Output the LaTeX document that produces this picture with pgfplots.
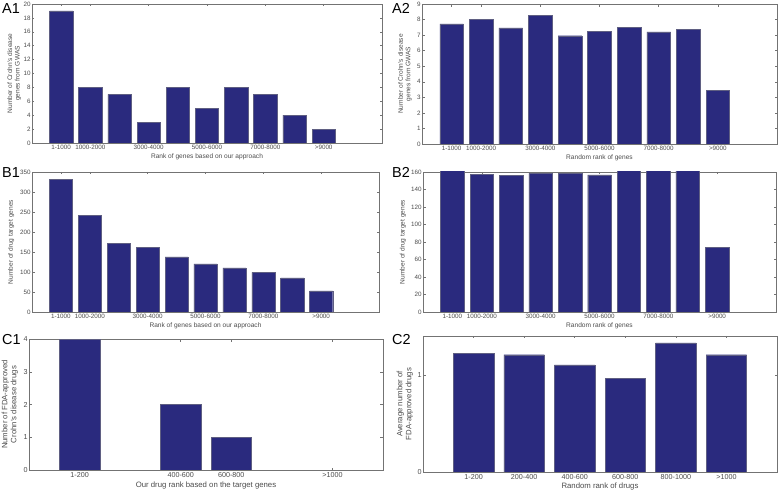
\documentclass[border=0pt]{standalone}
\usepackage{pgfplots}
\pgfplotsset{compat=1.18}
\usepackage{fontspec}
\setmainfont{Liberation Sans}
\definecolor{barblue}{RGB}{42,42,126}
\definecolor{baredge}{RGB}{95,95,130}
\definecolor{axgray}{RGB}{115,115,115}
\definecolor{txtgray}{RGB}{75,75,75}
\pgfplotsset{
  mat/.style={
    scale only axis,
    anchor=south west,
    axis line style={axgray, line width=0.6pt},
    tick style={axgray, line width=0.5pt},
    major tick length=2.5bp,
    tick align=inside,
    /pgf/number format/assume math mode=true,
    ticklabel style={text=txtgray, font=\fontsize{6.3}{6.3}\selectfont},
    yticklabel style={inner sep=1.2bp},
    xticklabel style={inner sep=1.5bp},
    label style={text=txtgray, font=\fontsize{6.6}{7.6}\selectfont, align=center},
    scaled y ticks=false,
    ymin=0,
  },
  bars/.style={ybar, bar width=0.8, fill=barblue, draw=baredge, line width=0.4pt},
}
\begin{document}
\begin{tikzpicture}
\path[use as bounding box] (0,0) rectangle (782bp,494bp);
% A1
\begin{axis}[mat, at={(32bp,351bp)}, width=350bp, height=139bp,
  xmin=0, xmax=12, ymax=20, ytick={0,2,...,20},
  xtick={1,2,4,6,8,10},
  xticklabels={1-1000,1000-2000,3000-4000,5000-6000,7000-8000,>9000},
  xlabel={Rank of genes based on our approach},
  xlabel style={at={(axis description cs:0.5,-0.097)}, anchor=center},
  ylabel={Number of Crohn's disease\\genes from GWAS},
  ylabel style={at={(axis description cs:-0.051,0.5)}, anchor=center}]
\addplot[bars] coordinates {(1,19) (2,8) (3,7) (4,3) (5,8) (6,5) (7,8) (8,7) (9,4) (10,2)};
\end{axis}
% A2
\begin{axis}[mat, at={(422bp,350bp)}, width=355bp, height=140bp,
  xmin=0, xmax=12, ymax=9, ytick={0,1,...,9},
  xtick={1,2,4,6,8,10},
  xticklabels={1-1000,1000-2000,3000-4000,5000-6000,7000-8000,>9000},
  xlabel={Random rank of genes},
  xlabel style={at={(axis description cs:0.5,-0.1)}, anchor=center},
  ylabel={Number of Crohn's disease\\genes from GWAS},
  ylabel style={at={(axis description cs:-0.048,0.5)}, anchor=center}]
\addplot[bars] coordinates {(1,7.72) (2,8.0) (3,7.46) (4,8.26) (5,6.96) (6,7.23) (7,7.5) (8,7.21) (9,7.39) (10,3.43)};
\end{axis}
% B1
\begin{axis}[mat, at={(32bp,182bp)}, width=347bp, height=140bp,
  xmin=0, xmax=12, ymax=350, ytick={0,50,...,350},
  xtick={1,2,4,6,8,10},
  xticklabels={1-1000,1000-2000,3000-4000,5000-6000,7000-8000,>9000},
  xlabel={Rank of genes based on our approach},
  xlabel style={at={(axis description cs:0.5,-0.1)}, anchor=center},
  ylabel={Number of drug target genes},
  ylabel style={at={(axis description cs:-0.06,0.5)}, anchor=center}]
\addplot[bars] coordinates {(1,331) (2,241) (3,171) (4,161) (5,138) (6,120) (7,110) (8,99) (9,85) (10,52.5)};
\end{axis}
% B2
\begin{axis}[mat, at={(423bp,182bp)}, width=353bp, height=140bp,
  xmin=0, xmax=12, ymax=160, ytick={0,20,...,160},
  xtick={1,2,4,6,8,10},
  xticklabels={1-1000,1000-2000,3000-4000,5000-6000,7000-8000,>9000},
  xlabel={Random rank of genes},
  xlabel style={at={(axis description cs:0.5,-0.1)}, anchor=center},
  ylabel={Number of drug target genes},
  ylabel style={at={(axis description cs:-0.057,0.5)}, anchor=center}]
\addplot[bars] coordinates {(1,162) (2,157) (3,156) (4,158.5) (5,158.5) (6,156.6) (7,162) (8,162) (9,162) (10,74.2)};
\end{axis}
% C1
\begin{axis}[mat, at={(29bp,24bp)}, width=354bp, height=131bp,
  ticklabel style={font=\fontsize{7.2}{7.2}\selectfont},
  label style={font=\fontsize{7.8}{9}\selectfont},
  xticklabel style={inner sep=2.5bp},
  xmin=0, xmax=7, ymax=4, ytick={0,1,2,3,4},
  xtick={1,3,4,6},
  xticklabels={1-200,400-600,600-800,>1000},
  xlabel={Our drug rank based on the target genes},
  xlabel style={at={(axis description cs:0.5,-0.122)}, anchor=center},
  ylabel={Number of FDA-approved\\Crohn's disease drugs},
  ylabel style={at={(axis description cs:-0.054,0.5)}, anchor=center}]
\addplot[bars] coordinates {(1,4) (2,0) (3,2) (4,1) (5,0) (6,0)};
\end{axis}
% C2
\begin{axis}[mat, at={(423bp,22bp)}, width=354bp, height=136bp,
  ticklabel style={font=\fontsize{7.2}{7.2}\selectfont},
  label style={font=\fontsize{7.8}{9}\selectfont},
  xticklabel style={inner sep=2.5bp},
  xmin=0, xmax=7, ymax=1.4, ytick={0,1},
  xtick={1,2,3,4,5,6},
  xticklabels={1-200,200-400,400-600,600-800,800-1000,>1000},
  xlabel={Random rank of drugs},
  xlabel style={at={(axis description cs:0.5,-0.11)}, anchor=center},
  ylabel={Average number of\\FDA-approved drugs},
  ylabel style={at={(axis description cs:-0.051,0.5)}, anchor=center}]
\addplot[bars] coordinates {(1,1.224) (2,1.207) (3,1.103) (4,0.966) (5,1.328) (6,1.207)};
\end{axis}
% panel labels
\begin{scope}[every node/.style={anchor=base west, inner sep=0pt, font=\fontsize{14.5}{14.5}\selectfont}]
\node at (2bp,480bp) {A1};
\node at (392bp,480bp) {A2};
\node at (2bp,316bp) {B1};
\node at (392bp,316bp) {B2};
\node at (2bp,149bp) {C1};
\node at (392bp,149bp) {C2};
\end{scope}
\end{tikzpicture}
\end{document}
